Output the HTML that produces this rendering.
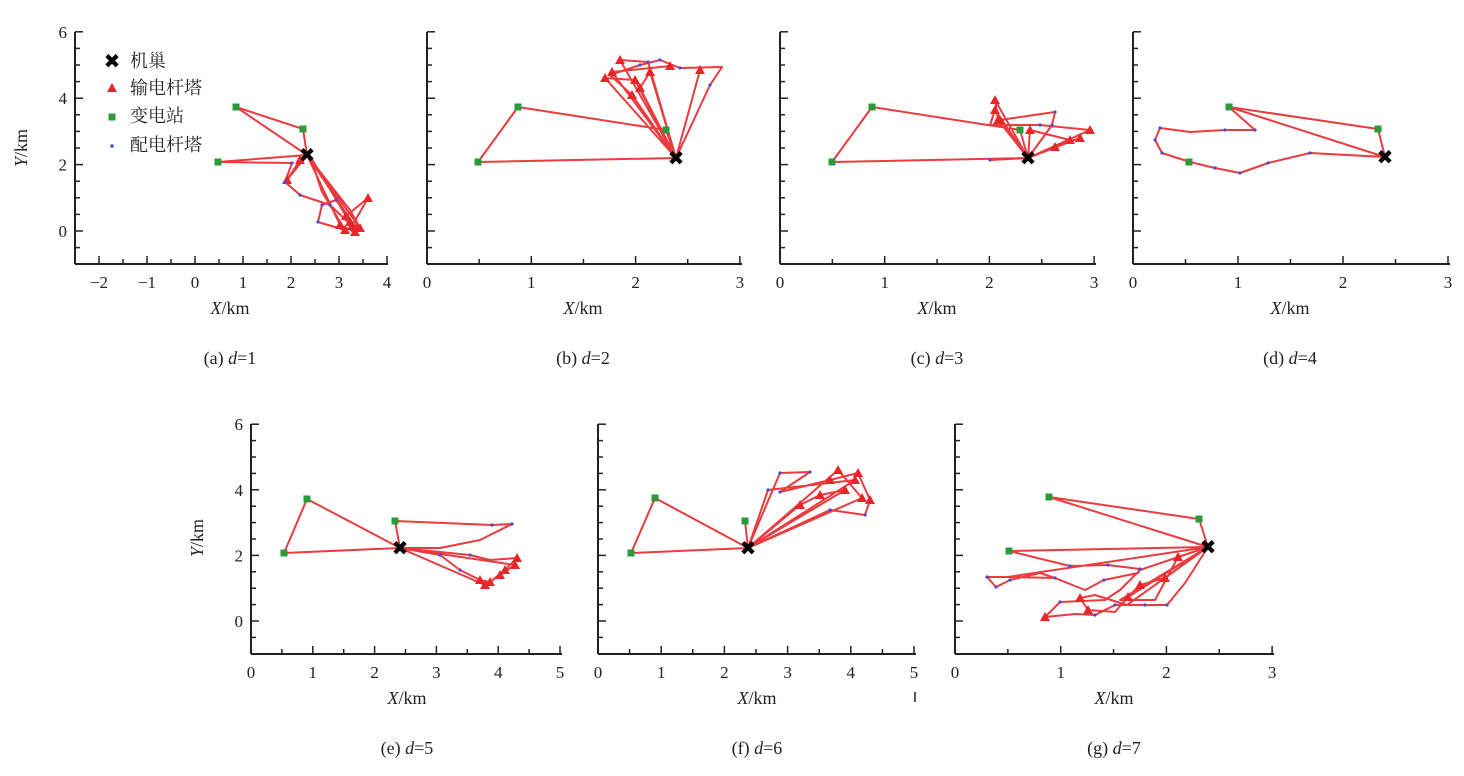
<!DOCTYPE html>
<html><head><meta charset="utf-8"><style>
body{margin:0;background:#fff}
svg{display:block}
text{font-family:"Liberation Serif","Noto Serif CJK SC",serif;fill:#222}
</style></head><body>
<svg id="s" width="1464" height="776" xmlns="http://www.w3.org/2000/svg"></svg>
<script>
const S=document.getElementById('s');let h='';
function axis(x0,yTop,yBot,xEnd,xticks,yl,ys,y0px,showY){
 // y axis
 h+=`<line x1="${x0}" y1="${yTop}" x2="${x0}" y2="${yBot}" stroke="#222" stroke-width="2"/>`;
 h+=`<line x1="${x0}" y1="${yBot}" x2="${xEnd}" y2="${yBot}" stroke="#222" stroke-width="2"/>`;
 for(let v=-1;v<=6;v+=0.5){const y=y0px-v*ys;if(y<yTop-1)continue;
  const maj=Number.isInteger(v)&&v%2==0;h+=`<line x1="${x0}" y1="${y}" x2="${x0+(maj?8:5)}" y2="${y}" stroke="#222" stroke-width="1.5"/>`;
  if(maj&&showY)h+=`<text x="${x0-8}" y="${y+6}" font-size="17" text-anchor="end">${v}</text>`;}
 xticks.forEach(t=>{h+=`<line x1="${t[0]}" y1="${yBot}" x2="${t[0]}" y2="${yBot-(t[1]!==null?8:5)}" stroke="#222" stroke-width="1.5"/>`;
  if(t[1]!==null)h+=`<text x="${t[0]}" y="${yBot+24}" font-size="17" text-anchor="middle">${t[1]<0?'−'+(-t[1]):t[1]}</text>`;});
}
function ticks(x0,px,from,to){const a=[];for(let v=from;v<=to+1e-9;v+=0.5){a.push([x0+(v-from)*px,Number.isInteger(v)?v:null]);}return a;}
function label(cx,y,t){h+=`<text x="${cx}" y="${y}" font-size="18" text-anchor="middle"><tspan font-style="italic">X</tspan>/km</text>`;}
function cap(cx,y,l,d){h+=`<text x="${cx}" y="${y}" font-size="18" text-anchor="middle">(${l})  <tspan font-style="italic">d</tspan>=${d}</text>`;}
function ylab(x,y){h+=`<text transform="translate(${x},${y}) rotate(-90)" font-size="18" text-anchor="middle"><tspan font-style="italic">Y</tspan>/km</text>`;}
function route(pts,tris,dots){
 h+=`<polyline points="${pts.map(p=>p.join(',')).join(' ')}" fill="none" stroke="#e8262a" stroke-width="2" stroke-linejoin="round" opacity="0.9"/>`;
 (tris||[]).forEach(p=>h+=`<polygon points="${p[0]},${p[1]-5} ${p[0]-5},${p[1]+4} ${p[0]+5},${p[1]+4}" fill="#e8262a"/>`);
 (dots||[]).forEach(p=>h+=`<circle cx="${p[0]}" cy="${p[1]}" r="1.6" fill="#4a4ad0"/>`);
}
function subs(a){a.forEach(p=>h+=`<rect x="${p[0]-3.5}" y="${p[1]-3.5}" width="7" height="7" fill="#2a9a3a"/>`);}
function nest(x,y){h+=`<text x="${x}" y="${y+7}" font-size="20" font-weight="bold" text-anchor="middle" style="fill:#000;font-family:'DejaVu Sans'">✖</text>`;}
// row 1
axis(75,32,264,388,ticks(75,48,-2.5,4).map(t=>[t[0],t[1]===-2.5?null:t[1]]),0,33.2,231,true);
axis(427,32,264,742,ticks(427,104.3,0,3),0,33.2,231,false);
axis(780,32,264,1096,ticks(780,104.7,0,3),0,33.2,231,false);
axis(1133,32,264,1450,ticks(1133,105,0,3),0,33.2,231,false);
ylab(27,148);
[[230,'a',1],[583,'b',2],[937,'c',3],[1290,'d',4]].forEach(a=>{label(a[0],314);cap(a[0],364,a[1],a[2]);});
// row 2
axis(251,424,654,562,ticks(251,61.8,0,5),0,32.8,621,true);
axis(598,424,654,916,ticks(598,63.2,0,5),0,32.8,621,false);
axis(955,424,654,1274,ticks(955,105.7,0,3),0,32.8,621,false);
ylab(203,538);
[[407,'e',5],[757,'f',6],[1114,'g',7]].forEach(a=>{label(a[0],704);cap(a[0],754,a[1],a[2]);});
h+=`<line x1="915" y1="692" x2="915" y2="702" stroke="#222" stroke-width="1.5"/>`;
// legend
nest(112,61);h+=`<text x="130" y="67" font-size="18">机巢</text>`;
h+=`<polygon points="112,83 107,92 117,92" fill="#e8262a"/><text x="130" y="94" font-size="18">输电杆塔</text>`;
h+=`<rect x="108.5" y="113.5" width="7" height="7" fill="#2a9a3a"/><text x="130" y="122" font-size="18">变电站</text>`;
h+=`<circle cx="112" cy="146" r="1.8" fill="#4a4ad0"/><text x="130" y="151" font-size="18">配电杆塔</text>`;
// (a)
route([[307,155],[236,107],[303,129],[307,155],[218,162],[292,163],[285,182],[300,195],[330,205],[352,226],[368,198],[346,216],[310,156],[322,192],[345,230],[318,222],[322,205],[336,200],[356,228],[307,155],[287,180],[300,160],[307,155],[360,228],[350,210],[307,155],[340,225],[355,232]],
 [[352,226],[368,198],[346,216],[356,228],[345,230],[287,180],[360,228],[350,222],[340,225],[355,232],[300,160]],
 [[292,163],[285,182],[300,195],[318,222],[322,205],[336,200],[330,205]]);
subs([[218,162],[236,107],[303,129]]);nest(307,155);
// (b)
route([[676,158],[478,162],[518,107],[666,130],[676,158],[632,95],[610,75],[640,65],[660,60],[680,68],[722,67],[710,85],[676,158],[605,78],[635,80],[676,158],[640,88],[650,72],[676,158],[620,60],[648,62],[676,158],[700,70],[676,158],[612,72],[670,66]],
 [[632,95],[605,78],[640,88],[650,72],[635,80],[612,72],[620,60],[700,70],[670,66]],
 [[640,65],[660,60],[710,85],[648,62],[680,68]]);
subs([[478,162],[518,107],[666,130]]);nest(676,158);
// (c)
route([[1028,158],[832,162],[872,107],[1020,130],[1028,158],[995,110],[990,125],[1040,125],[1090,130],[1028,158],[1055,147],[1080,138],[1028,158],[1000,120],[1055,112],[1052,125],[1028,158],[995,100],[998,120],[1028,158],[1030,130],[1070,140],[1028,158],[990,160],[1028,158]],
 [[995,110],[1090,130],[1055,147],[1080,138],[995,100],[998,120],[1070,140],[1000,120],[1030,130]],
 [[1055,112],[1040,125],[990,160],[1052,125]]);
subs([[832,162],[872,107],[1020,130]]);nest(1028,158);
// (d)
route([[1385,157],[1229,107],[1255,130],[1225,130],[1190,132],[1160,128],[1155,140],[1162,153],[1190,162],[1215,168],[1240,173],[1268,163],[1310,153],[1385,157],[1378,129],[1229,107]],
 [],[[1255,130],[1225,130],[1160,128],[1155,140],[1162,153],[1215,168],[1240,173],[1268,163],[1310,153]]);
subs([[1189,162],[1229,107],[1378,129]]);nest(1385,157);
// (e)
route([[400,548],[284,553],[307,499],[400,548],[395,521],[492,525],[512,524],[480,540],[440,548],[400,548],[470,555],[490,560],[517,558],[505,570],[490,582],[480,580],[460,570],[440,555],[400,548],[515,565],[500,575],[485,585],[400,548]],
 [[517,558],[505,570],[490,582],[485,585],[500,575],[515,565],[480,580]],[[492,525],[512,524],[470,555],[460,570],[440,555]]);
subs([[284,553],[307,499],[395,521]]);nest(400,548);
// (f)
route([[748,548],[631,553],[655,498],[748,548],[745,521],[748,548],[780,473],[810,472],[780,492],[830,480],[858,473],[870,500],[865,515],[830,510],[748,548],[800,505],[820,495],[845,490],[748,548],[855,480],[768,490],[748,548],[838,470],[862,498],[748,548]],
 [[830,480],[858,473],[870,500],[800,505],[820,495],[845,490],[855,480],[862,498],[838,470]],[[780,473],[810,472],[780,492],[865,515],[830,510],[768,490]]);
subs([[631,553],[655,498],[745,521]]);nest(748,548);
// (g)
route([[1208,547],[1049,497],[1199,519],[1208,547],[1009,551],[1070,566],[1108,565],[1140,569],[1138,573],[1104,580],[1085,590],[1055,578],[1008,577],[987,577],[996,587],[1010,580],[1040,573],[1055,578],[1008,577],[1208,547],[1140,570],[1120,590],[1105,600],[1060,602],[1045,617],[1075,614],[1095,615],[1115,605],[1145,605],[1167,605],[1185,583],[1208,547],[1128,597],[1115,612],[1088,610],[1080,598],[1095,595],[1127,605],[1208,547],[1165,578],[1140,585],[1128,597],[1208,547],[1178,557],[1155,600],[1120,600],[1208,547]],
 [[1045,617],[1128,597],[1088,610],[1140,585],[1165,578],[1178,557],[1080,598]],[[1070,566],[1108,565],[1140,569],[1104,580],[1055,578],[987,577],[996,587],[1010,580],[1060,602],[1095,615],[1115,605],[1145,605],[1167,605]]);
subs([[1009,551],[1049,497],[1199,519]]);nest(1208,547);
S.innerHTML=h;
</script>
</body></html>
